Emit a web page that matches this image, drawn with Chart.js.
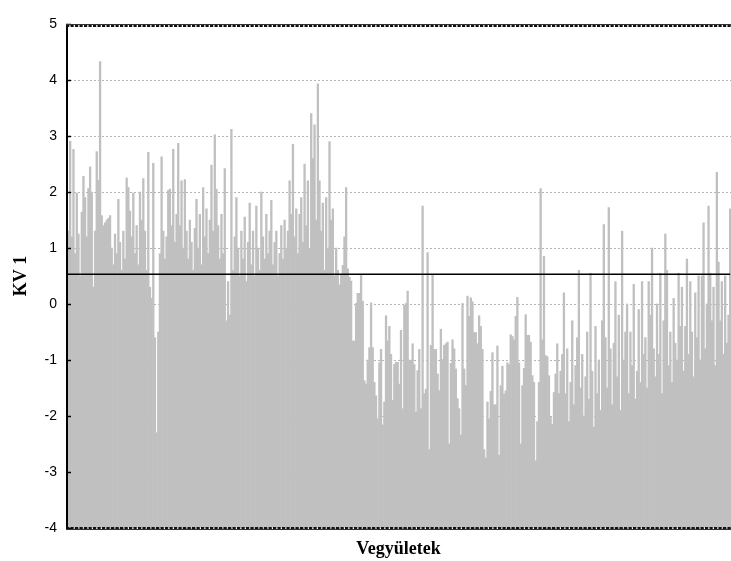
<!DOCTYPE html>
<html>
<head>
<meta charset="utf-8">
<title>KV 1</title>
<script src="https://cdn.jsdelivr.net/npm/chart.js@4/dist/chart.umd.min.js"></script>
<style>
  html, body { margin: 0; padding: 0; background: #ffffff; }
  canvas { display: block; }
</style>
</head>
<body>
<canvas id="kv" width="731" height="561"></canvas>
<script>
// KV 1 score of each compound (left to right)
const kv1Values = [
  // 1–164
  1.67, 1.3, 2.91, 1.2, 2.76, 0.9, 1.98, 1.25, 0.5, 1.64, 2.28, 1.9, 1.2, 2.06, 2.45, 2.0, 0.3, 1.3, 2.72, 2.21,
  4.33, 1.58, 1.4, 1.45, 1.5, 1.53, 1.58, 1.0, 0.7, 1.25, 0.9, 1.87, 1.1, 0.6, 1.3, 0.8, 2.25, 2.08, 1.66, 1.2,
  1.98, 0.9, 1.4, 0.7, 2.0, 1.5, 2.24, 1.3, 0.6, 2.71, 0.3, 0.1, 2.51, -0.6, -2.3, -0.5, 0.9, 2.63, 1.3, 0.8,
  1.2, 2.03, 2.05, 1.4, 2.76, 1.1, 1.6, 2.87, 1.4, 2.2, 1.0, 2.22, 1.3, 0.8, 1.5, 1.1, 0.6, 1.35, 1.87, 1.0,
  1.6, 0.7, 2.08, 1.2, 1.7, 0.9, 1.5, 2.48, 1.3, 3.02, 2.05, 1.4, 0.8, 1.6, 0.9, 2.42, -0.3, 0.4, -0.2, 3.12,
  0.6, 1.2, 1.9, 1.0, 0.5, 1.3, 0.8, 1.55, 0.4, 1.1, 1.8, 0.7, 1.3, 0.5, 1.75, 1.0, 0.6, 2.0, 1.2, 0.8,
  1.6, 0.9, 1.3, 1.85, 0.7, 1.1, 1.3, 0.5, 0.9, 1.4, 0.8, 1.5, 1.0, 1.3, 2.2, 1.6, 2.85, 1.2, 1.7, 0.9,
  1.6, 1.9, 1.1, 2.5, 1.4, 2.2, 1.0, 3.4, 2.6, 3.2, 1.5, 3.93, 2.2, 1.3, 1.8, 0.6, 1.9, 1.0, 2.9, 1.5,
  1.7, 0.5, 1.0, 0.6,
  // 165–297
  0.34, 0.53, 0.69, 1.2, 2.08, 0.63, 0.48, 0.41, -0.66, -0.66,
  0.01, 0.19, 0.19, 0.51, 0.05, -1.37, -1.43, -1.0, -0.78, 0.02,
  -0.78, -1.4, -1.64, -2.05, -1.05, -0.81, -2.16, -1.75, -0.21, -0.66,
  -0.4, -0.9, -1.72, -1.08, -1.04, -1.04, -1.43, -0.47, -1.87, -0.02,
  0.01, 0.23, -1.0, -1.02, -0.71, -1.08, -1.93, -1.19, -0.81, -1.87,
  1.75, -1.6, -1.52, 0.92, -2.6, -0.74, 0.53, -0.81, -0.81, -1.25,
  -1.55, -0.45, -0.99, -0.74, -0.71, -0.68, -2.5, -1.06, -0.64, -0.8,
  -1.16, -1.69, -1.87, -2.34, 0.01, -1.16, -1.45, 0.14, -0.22, 0.11,
  0.04, -0.51, -0.51, -0.71, -0.21, -0.4, -0.81, -2.6, -2.75, -1.75,
  -2.05, -1.56, -0.87, -1.8, -1.8, -0.75, -2.7, -1.46, -1.11, -1.61,
  -1.55, -1.05, -1.08, -0.55, -0.58, -0.64, -0.22, 0.12, -1.05, -2.5,
  -1.46, -1.15, -0.19, -0.56, -0.56, -0.68, -1.28, -1.4, -2.8, -2.1,
  -1.4, 2.06, -0.64, 0.85, -0.92, -0.94, -1.28, -2.02, -2.15, -1.58, -1.25,
  -0.71, -1.6,
  // 298–400
  -1.2, -0.9, 0.2, -1.6, -0.8, -2.1, -1.4, -0.3, -1.8, -1.1,
  -0.6, 0.6, -1.5, -0.9, -2.0, -1.3, -0.5, -1.7, 0.55, -1.2,
  -2.2, -0.4, -1.6, -1.0, -1.9, -0.3, 1.42, -0.6, -1.5, 1.72,
  -0.8, -1.8, -0.7, 0.4, -1.3, -0.2, -1.9, 1.3, -1.0, -0.5,
  0.0, -1.6, -0.5, -1.1, 0.35, -1.7, -1.2, -0.1, -1.4, 0.4,
  -0.9, -0.6, -1.5, 0.4, -0.2, 1.0, -0.8, -1.3, 0.0, -0.9,
  0.55, -1.6, -0.3, 1.25, 0.6, -1.1, -0.5, -1.4, 0.1, -0.7,
  -1.0, 0.55, -0.4, 0.3, -1.2, -0.4, 0.8, -0.9, 0.4, -0.5,
  -1.3,
  0.2, -0.6, 0.5, -1.0, 0.5, 1.45, -0.8, 0.0, 1.75, 0.55,
  -0.3, 0.3, -1.1, 2.35, 0.75, -0.3, 0.4, -0.9, 0.5, -0.7,
  -0.2, 1.7
];

// compound identifiers along the x axis
const compounds = kv1Values.map((_, i) => 'V' + (i + 1));

// reference level drawn across the plot
const referenceLevel = 0.53;

// value axis range and ticks
const yMin = -4;
const yMax = 5;
const yTickValues = [-4, -3, -2, -1, 0, 1, 2, 3, 4, 5];

const axisFont = { family: "'Liberation Sans', Arial, sans-serif", size: 14 };
const titleFont = { family: "'Liberation Serif', 'Times New Roman', serif", size: 18, weight: 'bold' };

// frame: hatched top/bottom borders, left axis line and inner tick marks
const framePlugin = {
  id: 'frame',
  afterDatasetsDraw(chart) {
    const { ctx, chartArea: a, scales: { y } } = chart;
    ctx.save();
    // left axis line
    ctx.strokeStyle = '#000';
    ctx.lineWidth = 2;
    ctx.beginPath();
    ctx.moveTo(a.left + 1, a.top);
    ctx.lineTo(a.left + 1, a.bottom + 1);
    ctx.stroke();
    // inner tick marks
    ctx.lineWidth = 1.5;
    yTickValues.forEach(v => {
      const py = Math.round(y.getPixelForValue(v)) + 0.5;
      ctx.beginPath();
      ctx.moveTo(a.left, py);
      ctx.lineTo(a.left + 5, py);
      ctx.stroke();
    });
    // hatched horizontal borders
    const edge = (py, dir) => {
      ctx.setLineDash([]);
      ctx.strokeStyle = '#333';
      ctx.lineWidth = 1;
      ctx.beginPath();
      ctx.moveTo(a.left, py);
      ctx.lineTo(a.right, py);
      ctx.stroke();
      ctx.strokeStyle = '#111';
      ctx.lineWidth = 2;
      ctx.setLineDash([3.2, 1.3]);
      ctx.beginPath();
      ctx.moveTo(a.left, py + dir * 1.5);
      ctx.lineTo(a.right, py + dir * 1.5);
      ctx.stroke();
    };
    edge(Math.round(y.getPixelForValue(yMax)) + 0.5, 1);
    edge(Math.round(y.getPixelForValue(yMin)) + 1.5, -1);
    ctx.restore();
  }
};

new Chart(document.getElementById('kv'), {
  type: 'bar',
  data: {
    labels: compounds,
    datasets: [
      {
        type: 'line',
        data: compounds.map(() => referenceLevel),
        borderColor: '#000',
        borderWidth: 1.5,
        pointRadius: 0,
        fill: false,
        order: 0
      },
      {
        type: 'bar',
        data: kv1Values,
        base: yMin,
        backgroundColor: '#c0c0c0',
        borderWidth: 0,
        barPercentage: 1.0,
        categoryPercentage: 1.0,
        order: 1
      }
    ]
  },
  options: {
    responsive: false,
    animation: false,
    events: [],
    layout: { padding: { top: 24, right: 0, left: 0, bottom: 0 } },
    plugins: { legend: { display: false }, tooltip: { enabled: false } },
    scales: {
      x: {
        offset: true,
        ticks: { display: false },
        grid: { display: false },
        border: { display: false },
        title: { display: true, text: 'Vegyületek', font: titleFont, color: '#000', padding: { top: 2, bottom: 1 } },
        afterFit(scale) { scale.height = 33; }
      },
      y: {
        min: yMin,
        max: yMax,
        afterBuildTicks(scale) { scale.ticks = yTickValues.map(v => ({ value: v })); },
        ticks: { font: axisFont, color: '#000', padding: 9 },
        grid: { color: '#b4b4b4', lineWidth: 1, drawTicks: false },
        border: { display: false, dash: [2, 2] },
        title: { display: true, text: 'KV 1', font: titleFont, color: '#000', padding: { top: 11, bottom: 0 } },
        afterFit(scale) { scale.width = 66; }
      }
    }
  },
  plugins: [framePlugin]
});
</script>
</body>
</html>
